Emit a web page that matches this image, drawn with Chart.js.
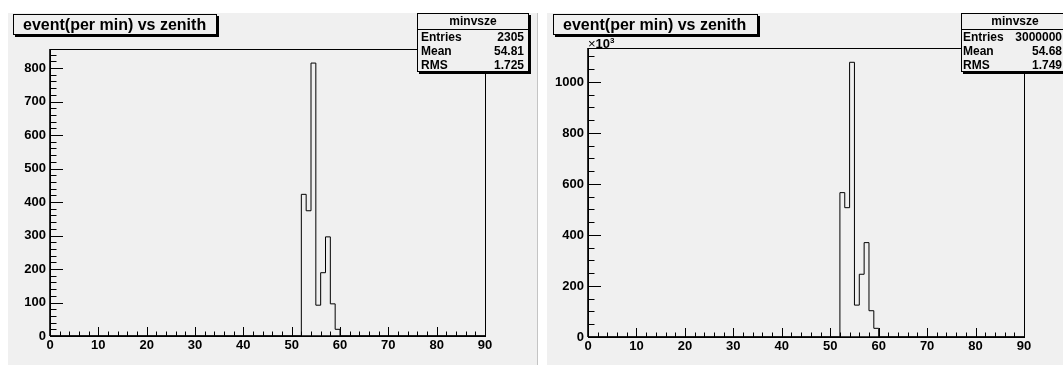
<!DOCTYPE html>
<html>
<head>
<meta charset="utf-8">
<script src="https://cdn.jsdelivr.net/npm/chart.js@4.4.1/dist/chart.umd.min.js"></script>
<style>
  body {
    margin: 0;
    width: 1063px;
    height: 365px;
    overflow: hidden;
    position: relative;
    background: #fff;
    font-family: "Liberation Sans", Arial, sans-serif;
  }
  .pad {
    position: absolute;
    top: 13px;
    height: 352px;
    background: #f0f0f0;
  }
  .pad canvas { position: absolute; left: 0; top: 0; }
  .sep {
    position: absolute;
    left: 537px;
    top: 13px;
    width: 1px;
    height: 352px;
    background: #c4c4c4;
  }
  .title {
    position: absolute;
    top: 1px;
    height: 19px;
    border: 1px solid #000;
    box-shadow: 2px 2px 0 #000;
    background: #f0f0f0;
    font-weight: bold;
    font-size: 16px;
    line-height: 19px;
    padding-left: 9px;
    box-sizing: content-box;
    white-space: nowrap;
    z-index: 2;
  }
  .stats {
    position: absolute;
    top: 0;
    border: 1px solid #000;
    box-shadow: 2px 2px 0 #000;
    background: #f0f0f0;
    font-weight: bold;
    font-size: 12px;
    z-index: 2;
  }
  .stats .head {
    text-align: center;
    height: 15px;
    line-height: 15px;
    border-bottom: 1px solid #000;
  }
  .stats .row {
    display: flex;
    justify-content: space-between;
    height: 14px;
    line-height: 14px;
    padding: 0 4px 0 3px;
  }
  .stats.wide .row { padding: 0 0 0 1px; width: 99px; }
  .mult {
    position: absolute;
    left: 41px;
    top: 21px;
    font-size: 13px;
    line-height: 13px;
    z-index: 1;
  }
  .mult b { font-weight: bold; }
  .mult sup { font-size: 8px; font-weight: bold; vertical-align: 5px; }
</style>
</head>
<body>

<div class="pad" style="left:8px;width:529px;">
  <canvas id="histData" width="529" height="352"></canvas>
  <div class="title" style="left:5px;width:193px;">event(per min) vs zenith</div>
  <div class="stats" style="left:409px;width:110px;height:57px;">
    <div class="head">minvsze</div>
    <div class="row"><span>Entries</span><span>2305</span></div>
    <div class="row"><span>Mean</span><span>54.81</span></div>
    <div class="row"><span>RMS</span><span>1.725</span></div>
  </div>
</div>

<div class="sep"></div>

<div class="pad" style="left:547px;width:516px;">
  <canvas id="histSim" width="516" height="352"></canvas>
  <div class="title" style="left:6px;width:194px;">event(per min) vs zenith</div>
  <div class="mult">&times;<b>10</b><sup>3</sup></div>
  <div class="stats wide" style="left:414px;width:110px;height:57px;">
    <div class="head" style="width:106px;">minvsze</div>
    <div class="row"><span>Entries</span><span>3000000</span></div>
    <div class="row"><span>Mean</span><span>54.68</span></div>
    <div class="row"><span>RMS</span><span>1.749</span></div>
  </div>
</div>

<script>
// zenith bins (lower edges, degrees), 1 degree wide
const zenithBins = [52, 53, 54, 55, 56, 57, 58, 59];
const binWidth = 1;
// measured events per minute
const eventsData = [423, 374, 815, 92, 189, 296, 96, 20];
// simulated events per minute, in units of 10^3
const eventsSim = [566, 507, 1077, 125, 246, 370, 103, 34];

const zenithMin = 0;
const zenithMax = 90;

const FONT = "'Liberation Sans', Arial, sans-serif";

// histogram outline as step points: baseline, bin tops, back to baseline
function stepPoints(bins, counts) {
  const pts = [{ x: zenithMin, y: 0 }, { x: bins[0], y: 0 }];
  bins.forEach((lo, i) => pts.push({ x: lo, y: counts[i] }));
  pts.push({ x: bins[bins.length - 1] + binWidth, y: 0 });
  pts.push({ x: zenithMax, y: 0 });
  return pts;
}

// ROOT-like frame with inward major/minor ticks
const rootFrame = {
  id: "rootFrame",
  afterDraw(chart, args, o) {
    const { ctx, chartArea: a, scales } = chart;
    const x = scales.x, y = scales.y;
    ctx.save();
    ctx.strokeStyle = "#000";
    ctx.lineWidth = 1;
    ctx.strokeRect(Math.round(a.left) + 0.5, Math.round(a.top) + 0.5,
      Math.round(a.right - a.left), Math.round(a.bottom - a.top));

    ctx.lineWidth = 1.6;
    ctx.beginPath();
    ctx.moveTo(a.left, a.bottom);
    ctx.lineTo(a.right, a.bottom);
    ctx.moveTo(a.left, a.bottom);
    ctx.lineTo(a.left, a.top);
    ctx.stroke();

    ctx.lineWidth = 1;
    ctx.beginPath();
    const nx = Math.round((x.max - x.min) / o.xMinor);
    for (let i = 0; i <= nx; i++) {
      const v = x.min + i * o.xMinor;
      const px = Math.round(x.getPixelForValue(v)) + 0.5;
      const len = i % o.xDiv === 0 ? 9 : 4.5;
      ctx.moveTo(px, a.bottom);
      ctx.lineTo(px, a.bottom - len);
    }
    const ny = Math.floor((y.max - y.min) / o.yMinor);
    for (let i = 0; i <= ny; i++) {
      const v = y.min + i * o.yMinor;
      const py = Math.round(y.getPixelForValue(v)) + 0.5;
      const len = i % o.yDiv === 0 ? 13 : 6.5;
      ctx.moveTo(a.left, py);
      ctx.lineTo(a.left + len, py);
    }
    ctx.stroke();
    ctx.restore();
  },
};

function drawHist(canvasId, counts, cfg) {
  return new Chart(document.getElementById(canvasId), {
    type: "line",
    data: {
      datasets: [
        {
          data: stepPoints(zenithBins, counts),
          borderColor: "#000",
          borderWidth: 1,
          stepped: "before",
          pointRadius: 0,
          fill: false,
        },
      ],
    },
    options: {
      responsive: false,
      animation: false,
      layout: { padding: { top: cfg.top, right: cfg.right, left: 0, bottom: 0 } },
      plugins: {
        legend: { display: false },
        tooltip: { enabled: false },
        rootFrame: { xMinor: 2, xDiv: 5, yMinor: cfg.yMinor, yDiv: cfg.yDiv },
      },
      scales: {
        x: {
          type: "linear",
          min: zenithMin,
          max: zenithMax,
          grid: { display: false, drawTicks: false },
          border: { display: false },
          ticks: {
            stepSize: 10,
            includeBounds: false,
            maxRotation: 0,
            autoSkip: false,
            padding: 2,
            color: "#000",
            font: { family: FONT, size: 13, weight: "bold" },
          },
          afterFit: (s) => { s.height = cfg.xHeight; },
        },
        y: {
          min: 0,
          max: cfg.yMax,
          grid: { display: false, drawTicks: false },
          border: { display: false },
          ticks: {
            stepSize: cfg.yStep,
            includeBounds: false,
            padding: 4,
            color: "#000",
            font: { family: FONT, size: 13, weight: "bold" },
            callback: (v) => String(v),
          },
          afterFit: (s) => { s.width = cfg.yWidth; },
        },
      },
    },
    plugins: [rootFrame],
  });
}

drawHist("histData", eventsData, {
  top: 36, right: 52, xHeight: 29, yWidth: 42,
  yMax: 857, yStep: 100, yMinor: 20, yDiv: 5,
});

drawHist("histSim", eventsSim, {
  top: 35, right: 39, xHeight: 28, yWidth: 41,
  yMax: 1133, yStep: 200, yMinor: 50, yDiv: 4,
});
</script>
</body>
</html>
